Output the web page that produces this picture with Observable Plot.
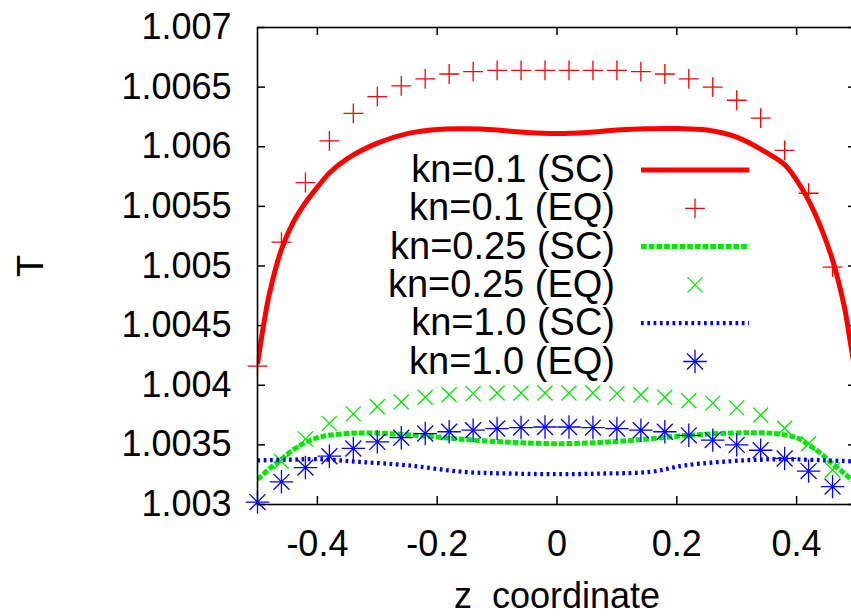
<!DOCTYPE html>
<html><head><meta charset="utf-8">
<script src="https://cdn.jsdelivr.net/npm/d3@7"></script>
<script src="https://cdn.jsdelivr.net/npm/@observablehq/plot@0.6"></script>
<style>
html,body{margin:0;padding:0;background:#fff;overflow:hidden;width:851px;height:616px;}
#wrap{position:relative;width:851px;height:616px;overflow:hidden;}
#wrap > svg{max-width:none !important;}
#legend{position:absolute;left:0;top:0;pointer-events:none;}
</style></head><body><div id="wrap"></div>
<script>
// ---- data ----
const xTicks = [-0.4, -0.2, 0, 0.2, 0.4];
const yTicks = [1.003, 1.0035, 1.004, 1.0045, 1.005, 1.0055, 1.006, 1.0065, 1.007];

const zEq = [-0.5,-0.46,-0.42,-0.38,-0.34,-0.3,-0.26,-0.22,-0.18,-0.14,-0.1,-0.06,-0.02,0.02,0.06,0.1,0.14,0.18,0.22,0.26,0.3,0.34,0.38,0.42,0.46];
const tRedEq = [1.00416,1.00520,1.00570,1.00605,1.00628,1.00642,1.00651,1.00657,1.00661,1.00663,1.00664,1.00664,1.00664,1.00664,1.00664,1.00664,1.00663,1.00661,1.00657,1.00650,1.00639,1.00624,1.00597,1.00561,1.00499];
const tGreenEq = [null,1.00336,1.00355,1.00368,1.00376,1.00382,1.00386,1.00390,1.00392,1.00393,1.003935,1.003935,1.003935,1.003935,1.003935,1.00393,1.00392,1.00390,1.00387,1.00385,1.00381,1.00375,1.00364,1.00351,1.00329];
const tBlueEq = [1.00302,1.00319,1.00331,1.003405,1.00347,1.003525,1.00356,1.003595,1.00361,1.003623,1.003637,1.003645,1.00365,1.00365,1.003645,1.003637,1.003623,1.00361,1.00358,1.00354,1.0035,1.003455,1.003386,1.00328,1.00315];

const zRedSc = [-0.5,-0.49,-0.48,-0.46,-0.44,-0.42,-0.4,-0.38,-0.35,-0.3,-0.25,-0.2,-0.15,-0.1,-0.05,0,0.05,0.1,0.15,0.2,0.25,0.3,0.35,0.38,0.4,0.42,0.44,0.46,0.48,0.49,0.5];
const tRedSc = [1.00418,1.00450,1.00477,1.00514,1.00537,1.00553,1.00566,1.00578,1.00590,1.00603,1.00611,1.006145,1.00615,1.00614,1.00612,1.006112,1.00612,1.00614,1.00615,1.006152,1.00614,1.00608,1.00595,1.00585,1.00572,1.00555,1.00533,1.00505,1.00465,1.00435,1.00405];

const zGreenSc = [-0.5,-0.48,-0.46,-0.44,-0.42,-0.4,-0.38,-0.35,-0.32,-0.26,-0.2,-0.14,-0.07,0,0.07,0.13,0.22,0.3,0.36,0.4,0.42,0.44,0.46,0.48,0.5];
const tGreenSc = [1.00321,1.00330,1.00338,1.00346,1.00352,1.00356,1.00358,1.003595,1.0036,1.003589,1.003565,1.00354,1.00352,1.00351,1.00352,1.00354,1.00358,1.0036,1.003597,1.00356,1.0035,1.00343,1.00334,1.00326,1.00317];

const zBlueSc = [-0.5,-0.45,-0.4,-0.33,-0.25,-0.155,-0.08,0,0.08,0.155,0.215,0.315,0.38,0.45,0.5];
const tBlueSc = [1.00337,1.003375,1.00338,1.003357,1.003329,1.003273,1.00326,1.003254,1.00326,1.003273,1.003329,1.003371,1.00338,1.00337,1.00336];

const legendLabels = ["kn=0.1 (SC)","kn=0.1 (EQ)","kn=0.25 (SC)","kn=0.25 (EQ)","kn=1.0 (SC)","kn=1.0 (EQ)"];

// ---- tables ----
const toRows = (zs, ts) => zs.map((z, i) => ({z, t: ts[i]})).filter(d => d.t != null);
const redSc = toRows(zRedSc, tRedSc), greenSc = toRows(zGreenSc, tGreenSc), blueSc = toRows(zBlueSc, tBlueSc);
const redEq = toRows(zEq, tRedEq), greenEq = toRows(zEq, tGreenEq), blueEq = toRows(zEq, tBlueEq);

const RED = "#ff0000", GREEN = "#00e800", BLUE = "#0000ff";
const FONT = "'Liberation Sans', Arial, Helvetica, sans-serif";
const W = 870, H = 616, ML = 257, MR = 14, MT = 27, MB = 112;
const FW = W - ML - MR, FH = H - MT - MB;

const base = {curve: "catmull-rom", clip: true, strokeLinecap: "butt", strokeLinejoin: "round"};
const red = {stroke: RED, strokeWidth: 5, ...base};
const green = {stroke: GREEN, strokeWidth: 5, strokeDasharray: "5.7,2", ...base};
const blue = {stroke: BLUE, strokeWidth: 4.3, strokeDasharray: "2.7,3.6", ...base};

const chart = Plot.plot({
  width: W, height: H,
  marginLeft: ML, marginRight: MR, marginTop: MT, marginBottom: MB,
  style: {fontFamily: FONT, fontSize: "36px", color: "#000", background: "#fff", overflow: "visible", maxWidth: "none"},
  x: {domain: [-0.5, 0.5]},
  y: {domain: [1.003, 1.007]},
  marks: [
    Plot.axisX({ticks: xTicks, tickSize: 0, tickPadding: 26, tickFormat: d => String(d),
      label: "z\u00a0 coordinate", labelAnchor: "center", labelOffset: 103, labelArrow: "none"}),
    Plot.axisY({ticks: yTicks, tickSize: 0, tickPadding: 26, tickFormat: d => String(d),
      label: "T", labelAnchor: "center", labelOffset: 240, labelArrow: "none"}),
    Plot.tickX(xTicks, {x: d => d, stroke: "#000", strokeWidth: 1.5, insetTop: FH - 8}),
    Plot.tickX(xTicks, {x: d => d, stroke: "#000", strokeWidth: 1.5, insetBottom: FH - 8}),
    Plot.tickY(yTicks, {y: d => d, stroke: "#000", strokeWidth: 1.5, insetRight: FW - 8}),
    Plot.tickY(yTicks, {y: d => d, stroke: "#000", strokeWidth: 1.5, insetLeft: FW - 8}),
    Plot.line(redSc, {x: "z", y: "t", ...red}),
    Plot.dot(redEq, {x: "z", y: "t", symbol: "plus", r: 6.43, stroke: RED, strokeWidth: 1.3}),
    Plot.line(greenSc, {x: "z", y: "t", ...green}),
    Plot.dot(greenEq, {x: "z", y: "t", symbol: "times", r: 6.88, stroke: GREEN, strokeWidth: 1.3}),
    Plot.line(blueSc, {x: "z", y: "t", ...blue}),
    Plot.dot(blueEq, {x: "z", y: "t", symbol: "plus", r: 7.6, stroke: BLUE, strokeWidth: 1.3}),
    Plot.dot(blueEq, {x: "z", y: "t", symbol: "times", r: 7.3, stroke: BLUE, strokeWidth: 1.3}),
    Plot.frame({stroke: "#000", strokeWidth: 1.6})
  ]
});
const wrap = document.getElementById("wrap");
wrap.appendChild(chart);

// ---- legend (inside the plot area, as in the reference) ----
const leg = d3.select(wrap).append("svg").attr("id", "legend")
  .attr("width", 851).attr("height", 616)
  .style("font-family", FONT).style("font-size", "38px");
const rowY = i => 170 + i * 38.3;
const styles = [
  {type: "line", stroke: RED, w: 5, dash: null},
  {type: "sym", syms: [[d3.symbolPlus, 6.43]], stroke: RED},
  {type: "line", stroke: GREEN, w: 5, dash: "5.7,2"},
  {type: "sym", syms: [[d3.symbolTimes, 6.88]], stroke: GREEN},
  {type: "line", stroke: BLUE, w: 4.3, dash: "2.7,3.6"},
  {type: "sym", syms: [[d3.symbolPlus, 7.6], [d3.symbolTimes, 7.3]], stroke: BLUE}
];
legendLabels.forEach((lab, i) => {
  const y = rowY(i);
  leg.append("text").attr("x", 615).attr("y", y).attr("dy", "0.32em")
    .attr("text-anchor", "end").attr("fill", "#000").text(lab);
  const s = styles[i];
  if (s.type === "line") {
    leg.append("line").attr("x1", 641).attr("x2", 749).attr("y1", y).attr("y2", y)
      .attr("stroke", s.stroke).attr("stroke-width", s.w).attr("stroke-dasharray", s.dash);
  } else {
    s.syms.forEach(([t, r]) => {
      leg.append("path").attr("d", d3.symbol(t, Math.PI * r * r)())
        .attr("transform", `translate(695,${y})`).attr("fill", "none")
        .attr("stroke", s.stroke).attr("stroke-width", 1.3);
    });
  }
});
</script>
</body></html>
